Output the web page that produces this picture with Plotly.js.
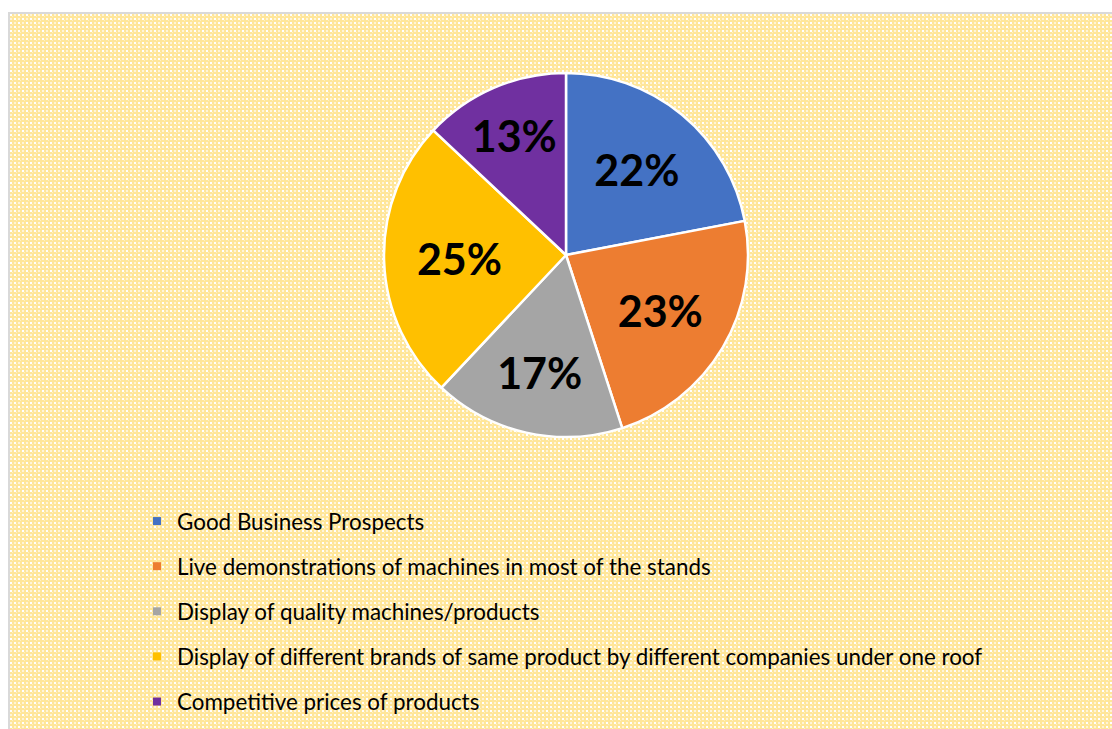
<!DOCTYPE html>
<html>
<head>
<meta charset="utf-8">
<script src="https://cdn.plot.ly/plotly-3.0.1.min.js"></script>
<style>
  html, body { margin:0; padding:0; background:#ffffff; width:1112px; height:729px; overflow:hidden; }
  #frame {
    position:absolute; left:8px; top:12px; width:1102px; height:715px;
    border-left:2px solid #D9D9D9; border-top:2px solid #D9D9D9;
    background-color:#FFE699;
    background-image: url("data:image/svg+xml;utf8,<svg xmlns='http://www.w3.org/2000/svg' width='8' height='8' shape-rendering='crispEdges'><rect width='8' height='8' fill='%23FFE699'/><rect x='0' y='0' width='2' height='2' fill='%23FFFFFF'/><rect x='4' y='4' width='2' height='2' fill='%23FFFFFF'/><rect x='4' y='0' width='2' height='2' fill='%23FFF4D6'/><rect x='0' y='4' width='2' height='2' fill='%23FFF4D6'/><rect x='2' y='2' width='1' height='1' fill='%23FFF0C4'/><rect x='6' y='6' width='1' height='1' fill='%23FFF0C4'/></svg>");
  }
  #chart { position:absolute; left:0; top:0; width:1112px; height:729px; }
</style>
</head>
<body>
<div id="frame"></div>
<div id="chart"></div>
<script>
const categories = [
  "Good Business Prospects",
  "Live demonstrations of machines in most of the stands",
  "Display of quality machines/products",
  "Display of different brands of same product by different companies under one roof",
  "Competitive prices of products"
];
const values = [22, 23, 17, 25, 13];
const colors = ["#4472C4", "#ED7D31", "#A5A5A5", "#FFC000", "#7030A0"];

const pie = {
  type: 'pie',
  labels: categories,
  values: values,
  sort: false,
  direction: 'clockwise',
  rotation: 0,
  marker: { colors: colors, line: { color: '#FFFFFF', width: 2.5 } },
  textinfo: 'percent',
  texttemplate: '%{percent:.0%}',
  textposition: 'inside',
  insidetextorientation: 'horizontal',
  textfont: { family: 'Lato, "Open Sans", sans-serif', size: 43, color: '#000000', weight: 'bold' },
  domain: { x: [384/1112, 748/1112], y: [1 - 437/729, 1 - 73/729] },
  showlegend: false,
  hoverinfo: 'label+percent'
};

const legendTraces = categories.map((c, i) => ({
  type: 'scatter',
  mode: 'markers',
  x: [null], y: [null],
  name: c,
  legendgroup: 'g' + i,
  marker: { symbol: 'square', size: 8, color: colors[i] },
  showlegend: true,
  hoverinfo: 'skip'
}));

const layout = {
  width: 1112, height: 729,
  margin: { l: 0, r: 0, t: 0, b: 0 },
  paper_bgcolor: 'rgba(0,0,0,0)',
  plot_bgcolor: 'rgba(0,0,0,0)',
  xaxis: { visible: false, domain: [0, 0.01] },
  yaxis: { visible: false, domain: [0, 0.01] },
  showlegend: true,
  legend: {
    xref: 'paper', yref: 'paper',
    x: 137/1112, y: 1 - 500/729, xanchor: 'left', yanchor: 'top',
    orientation: 'v',
    bgcolor: 'rgba(0,0,0,0)',
    tracegroupgap: 13,
    traceorder: 'grouped',
    font: { family: 'Lato, "Open Sans", sans-serif', size: 22.4, color: '#000000' },
    itemclick: false, itemdoubleclick: false
  }
};

Plotly.newPlot('chart', [pie].concat(legendTraces), layout, { displayModeBar: false, staticPlot: true });
</script>
</body>
</html>
